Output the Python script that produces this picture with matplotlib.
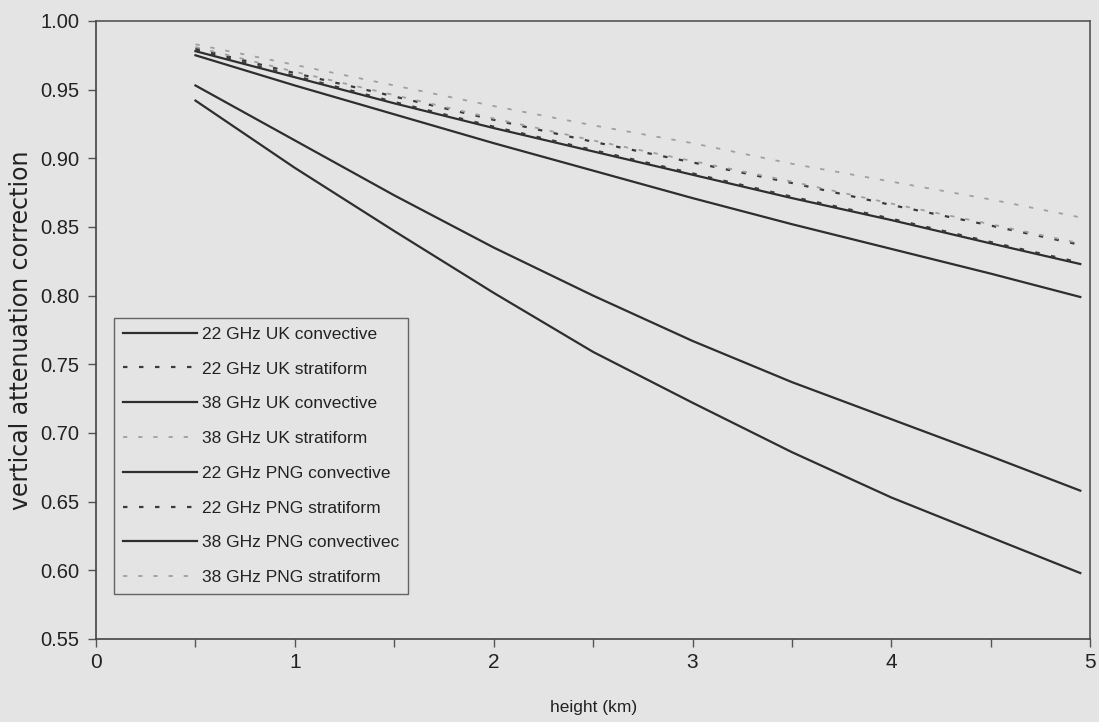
import matplotlib
matplotlib.use("Agg")
import matplotlib.pyplot as plt
from matplotlib.ticker import MultipleLocator, FormatStrFormatter

plt.rcParams['font.family'] = ['Liberation Sans', 'DejaVu Sans']

height_km = [0.5, 1.0, 1.5, 2.0, 2.5, 3.0, 3.5, 4.0, 4.5, 4.95]

uk22_conv = [0.978, 0.959, 0.940, 0.922, 0.905, 0.888, 0.871, 0.855, 0.838, 0.823]
uk22_strat = [0.980, 0.962, 0.945, 0.928, 0.912, 0.897, 0.882, 0.866, 0.851, 0.837]
uk38_conv = [0.953, 0.913, 0.873, 0.835, 0.800, 0.767, 0.737, 0.710, 0.683, 0.658]
uk38_strat = [0.981, 0.963, 0.946, 0.929, 0.913, 0.898, 0.883, 0.867, 0.852, 0.838]
png22_conv = [0.975, 0.953, 0.932, 0.911, 0.891, 0.871, 0.852, 0.834, 0.816, 0.799]
png22_strat = [0.979, 0.960, 0.941, 0.923, 0.906, 0.889, 0.872, 0.856, 0.839, 0.824]
png38_conv = [0.942, 0.893, 0.847, 0.802, 0.759, 0.722, 0.686, 0.653, 0.624, 0.598]
png38_strat = [0.983, 0.968, 0.953, 0.938, 0.924, 0.911, 0.896, 0.883, 0.870, 0.857]

labels = ["22 GHz UK convective", "22 GHz UK stratiform",
          "38 GHz UK convective", "38 GHz UK stratiform",
          "22 GHz PNG convective", "22 GHz PNG stratiform",
          "38 GHz PNG convectivec", "38 GHz PNG stratiform"]

bg = "#e4e4e4"
ink = "#222222"
solid = dict(color="#2e2e2e", lw=1.6, ls="-")
dotted = dict(color="#3a3a3a", lw=1.6, ls=(0, (2.0, 5.2)))
light = dict(color="#a0a0a0", lw=1.3, ls=(0, (2.4, 6.0)))

fig = plt.figure(figsize=(10.99, 7.22), dpi=100, facecolor=bg)
ax = fig.add_axes([0.0874, 0.115, 0.9046, 0.856], facecolor=bg)

series = [uk22_conv, uk22_strat, uk38_conv, uk38_strat,
          png22_conv, png22_strat, png38_conv, png38_strat]
styles = [solid, dotted, solid, light, solid, dotted, solid, light]
for vals, st, lab in zip(series, styles, labels):
    ax.plot(height_km, vals, label=lab, **st)

ax.set_xlim(0, 5)
ax.set_ylim(0.55, 1.00)
ax.xaxis.set_major_locator(MultipleLocator(1))
ax.xaxis.set_minor_locator(MultipleLocator(0.5))
ax.yaxis.set_major_locator(MultipleLocator(0.05))
ax.yaxis.set_major_formatter(FormatStrFormatter("%.2f"))
ax.tick_params(axis="both", which="both", direction="out", length=6,
               width=1, color="#555555", labelcolor=ink)
ax.tick_params(axis="y", labelsize=14.5, pad=6)
ax.tick_params(axis="x", labelsize=15, pad=4)
for side in ["left", "bottom"]:
    ax.spines[side].set_color("#444444")
    ax.spines[side].set_linewidth(1.2)
for side in ["top", "right"]:
    ax.spines[side].set_color("#555555")
    ax.spines[side].set_linewidth(1.2)

ax.set_xlabel("height (km)", fontsize=12.5, color=ink, labelpad=20)
ax.set_ylabel("vertical attenuation correction", fontsize=17, color=ink,
              labelpad=5, family="DejaVu Sans")

leg = ax.legend(loc="upper left", bbox_to_anchor=(0.018, 0.5194),
                fontsize=12.5, frameon=True, fancybox=False,
                handlelength=4.3, handletextpad=0.3, labelspacing=1.13,
                borderpad=0.5, borderaxespad=0)
leg.get_frame().set_facecolor(bg)
leg.get_frame().set_edgecolor("#444444")
leg.get_frame().set_linewidth(1.0)
for t in leg.get_texts():
    t.set_color(ink)

fig.savefig("out.png", dpi=100, facecolor=bg)
